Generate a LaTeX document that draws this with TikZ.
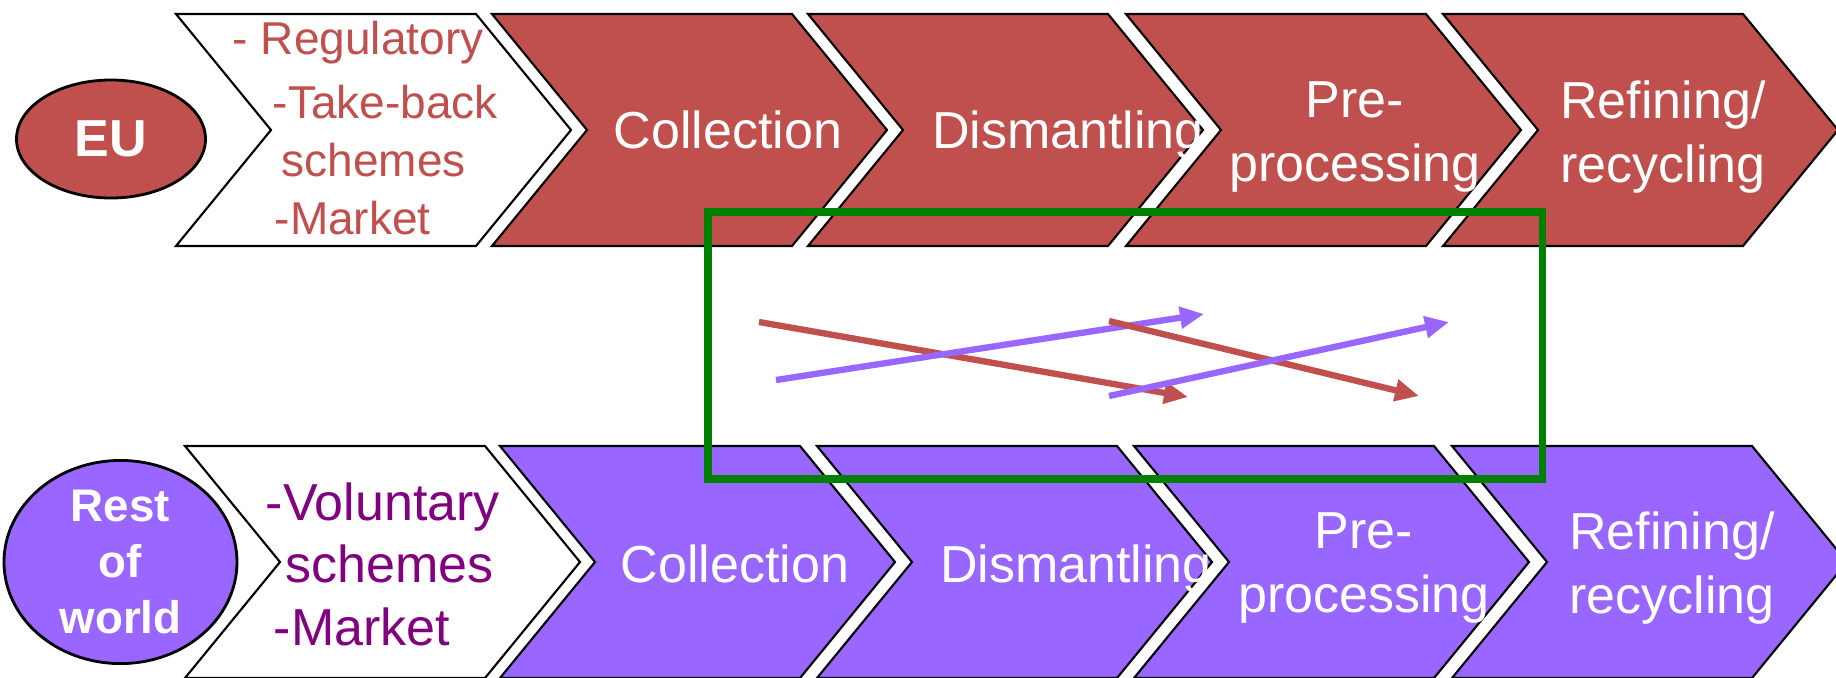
\documentclass[tikz,border=0pt]{standalone}
\usepackage{fontspec}
\setmainfont{Liberation Sans}
\usepackage{tikz}
\usetikzlibrary{shapes.geometric,arrows.meta}
\definecolor{EURed}{HTML}{C0504D}
\definecolor{RowPurple}{HTML}{9966FF}
\definecolor{SchemePurple}{HTML}{800080}
\definecolor{FrameGreen}{HTML}{008000}

\begin{document}
\begin{tikzpicture}[
  chevron/.pic={\path[pic actions] (0,0) -- (3.0,0) -- (3.95,-1.16) -- (3.0,-2.32)
                -- (0,-2.32) -- (0.95,-1.16) -- cycle;},
  eustep/.style={draw=black, line width=0.6pt, fill=EURed},
  rowstep/.style={draw=black, line width=0.6pt, fill=RowPurple},
  blank/.style={draw=black, line width=0.6pt, fill=white},
  stage/.style={text=white, align=center, inner sep=0pt,
                font=\fontsize{14.8}{18}\selectfont},
  region/.style={ellipse, draw=black, line width=0.8pt, inner sep=0pt, text=white,
                 align=center},
  flow/.style={-{Triangle[length=2.4mm,width=2.1mm]}, line width=1.8pt},
  frame/.style={draw=FrameGreen, line width=2pt, inner sep=0pt},
]
  \useasboundingbox (0,0) rectangle (18.36,6.77);

  % EU chain
  \pic[blank] at (1.76,6.63) {chevron};
  \pic[eustep] at (4.92,6.63) {chevron};
  \pic[eustep] at (8.08,6.63) {chevron};
  \pic[eustep] at (11.26,6.63) {chevron};
  \pic[eustep] at (14.43,6.63) {chevron};

  % rest of world chain
  \pic[blank] at (1.85,2.31) {chevron};
  \pic[rowstep] at (5.00,2.31) {chevron};
  \pic[rowstep] at (8.17,2.31) {chevron};
  \pic[rowstep] at (11.34,2.31) {chevron};
  \pic[rowstep] at (14.52,2.31) {chevron};

  % Nodes
  \node[region, fill=EURed, minimum width=1.89cm, minimum height=1.18cm,
        font=\fontsize{14.8}{16}\selectfont\bfseries] (eu) at (1.11,5.38) {EU};
  \node[region, fill=RowPurple, minimum width=2.33cm, minimum height=2.0cm,
        font=\fontsize{13}{15.9}\selectfont\bfseries] (row) at (1.205,1.15) {Rest\\of\\world};

  \node[text=EURed, align=left, anchor=west, inner sep=0pt, font=\fontsize{13.1}{16.5}\selectfont]
    (eurules) at (2.72,5.49)
    {\hspace*{-0.40cm}- Regulatory\\[1.5pt]-Take-back\\\hspace*{0.09cm}schemes\\\hspace*{0.02cm}-Market};
  \node[text=SchemePurple, align=left, anchor=west, inner sep=0pt, font=\fontsize{14.8}{17.8}\selectfont]
    (rowrules) at (2.65,1.13)
    {-Voluntary\\\hspace*{0.20cm}schemes\\\hspace*{0.08cm}-Market};

  \node[stage] (eucoll) at (7.28,5.47) {Collection};
  \node[stage] (eudism) at (10.68,5.415) {Dismantling};
  \node[stage] (euprep) at (13.55,5.40) {Pre-\\processing};
  \node[stage] (eurefi) at (16.63,5.40) {Refining/\\recycling};

  \node[stage] (rowcoll) at (7.35,1.13) {Collection};
  \node[stage] (rowdism) at (10.76,1.075) {Dismantling};
  \node[stage] (rowprep) at (13.64,1.09) {Pre-\\processing};
  \node[stage] (rowrefi) at (16.72,1.09) {Refining/\\recycling};

  % Frame
  \node[frame, minimum width=8.34cm, minimum height=2.67cm] (focus) at (11.25,3.315) {};

  % Cross flows
  \coordinate (r1s) at (7.59,3.55);  \coordinate (r1e) at (11.88,2.80);
  \coordinate (r2s) at (11.09,3.56); \coordinate (r2e) at (14.19,2.81);
  \coordinate (p1s) at (7.76,2.97);  \coordinate (p1e) at (12.04,3.63);
  \coordinate (p2s) at (11.09,2.81); \coordinate (p2e) at (14.49,3.55);

  \draw[flow, EURed] (r1s) -- (r1e);
  \draw[flow, RowPurple] (p1s) -- (p1e);
  \draw[flow, EURed] (r2s) -- (r2e);
  \draw[flow, RowPurple] (p2s) -- (p2e);
\end{tikzpicture}
\end{document}
